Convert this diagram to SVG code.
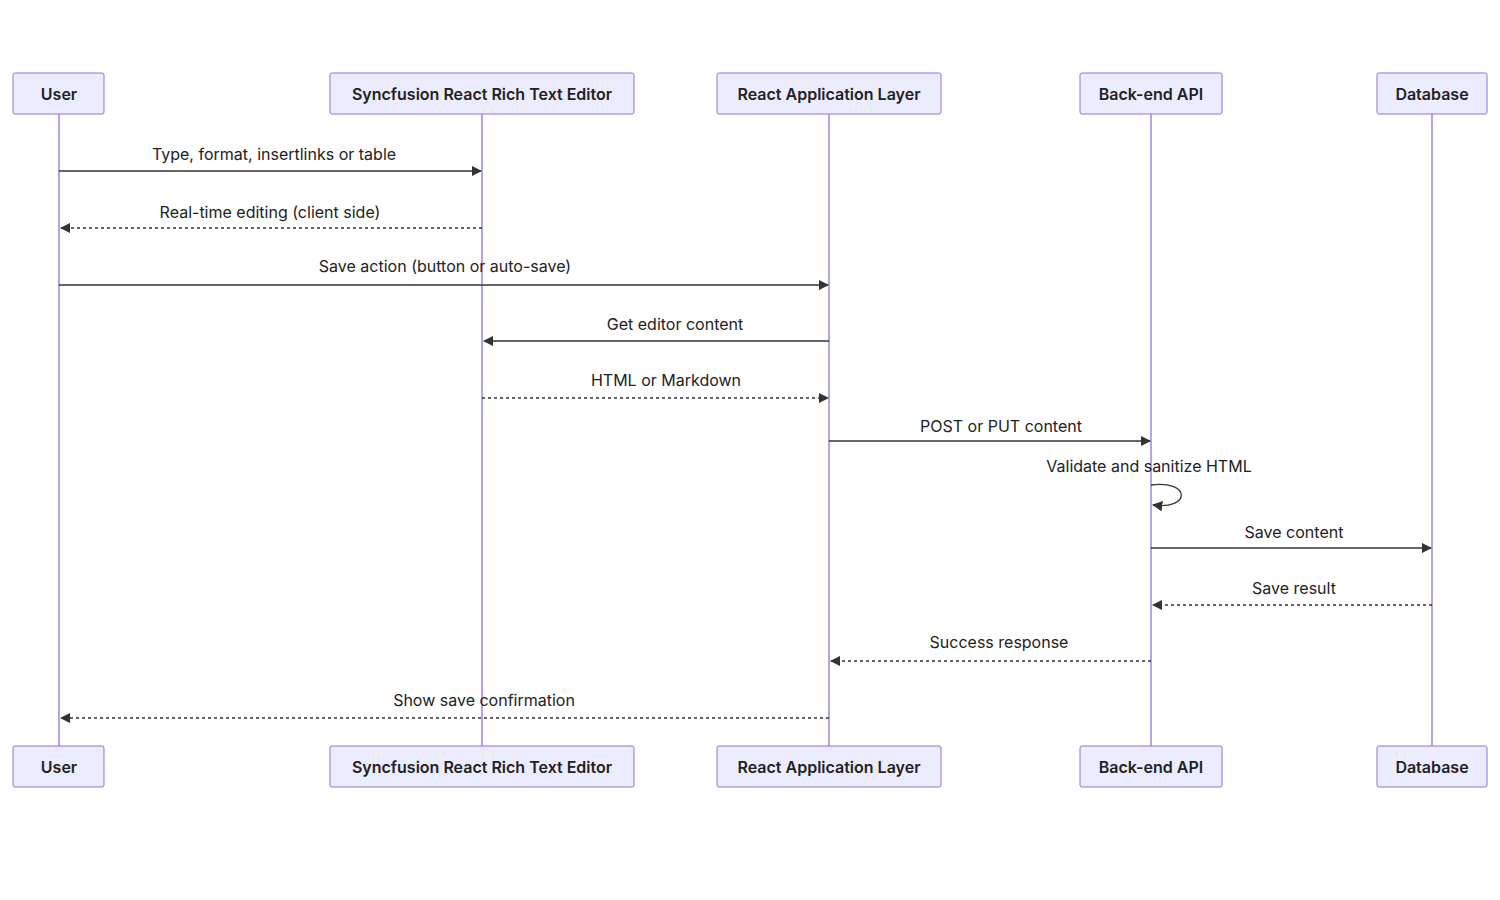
<svg xmlns="http://www.w3.org/2000/svg" width="1500" height="900" viewBox="0 0 1500 900">
<style>
.box{fill:#ECECFF;stroke:#9370DB;stroke-width:1}
.an{font-family:Inter,"Liberation Sans",sans-serif;font-size:16px;font-weight:600;fill:#222;text-anchor:middle;dominant-baseline:central}
.life{stroke:#9370DB;stroke-width:1.3}
.m{stroke:#333;stroke-width:1.3;fill:none}
.d{stroke-dasharray:3,3}
.t{font-family:Inter,"Liberation Sans",sans-serif;font-size:16px;fill:#222;text-anchor:middle}
</style>
<defs>
<marker id="ah" viewBox="0 0 10 10" refX="9" refY="5" markerWidth="8" markerHeight="8" orient="auto"><path d="M0,0L10,5L0,10z" fill="#333"/></marker>
</defs>
<rect width="1500" height="900" fill="#fff"/>
<g id="lifelines">
<line class="life" x1="59" y1="114" x2="59" y2="746"/>
<line class="life" x1="482" y1="114" x2="482" y2="746"/>
<line class="life" x1="829" y1="114" x2="829" y2="746"/>
<line class="life" x1="1151" y1="114" x2="1151" y2="746"/>
<line class="life" x1="1432" y1="114" x2="1432" y2="746"/>
</g>
<g id="user"><rect class="box" x="13" y="73" width="91" height="41" rx="2"/><text class="an" x="59" y="94">User</text>
<rect class="box" x="13" y="746" width="91" height="41" rx="2"/><text class="an" x="59" y="767">User</text></g>
<g id="editor"><rect class="box" x="330" y="73" width="304" height="41" rx="2"/><text class="an" x="482" y="94">Syncfusion React Rich Text Editor</text>
<rect class="box" x="330" y="746" width="304" height="41" rx="2"/><text class="an" x="482" y="767">Syncfusion React Rich Text Editor</text></g>
<g id="app"><rect class="box" x="717" y="73" width="224" height="41" rx="2"/><text class="an" x="829" y="94">React Application Layer</text>
<rect class="box" x="717" y="746" width="224" height="41" rx="2"/><text class="an" x="829" y="767">React Application Layer</text></g>
<g id="api"><rect class="box" x="1080" y="73" width="142" height="41" rx="2"/><text class="an" x="1151" y="94">Back-end API</text>
<rect class="box" x="1080" y="746" width="142" height="41" rx="2"/><text class="an" x="1151" y="767">Back-end API</text></g>
<g id="db"><rect class="box" x="1377" y="73" width="110" height="41" rx="2"/><text class="an" x="1432" y="94">Database</text>
<rect class="box" x="1377" y="746" width="110" height="41" rx="2"/><text class="an" x="1432" y="767">Database</text></g>
<g id="connectors">
<line class="m" x1="59" y1="171" x2="481" y2="171" marker-end="url(#ah)"/>
<text class="t" x="274" y="160">Type, format, insertlinks or table</text>
<line class="m d" x1="482" y1="228" x2="61" y2="228" marker-end="url(#ah)"/>
<text class="t" x="270" y="218">Real-time editing (client side)</text>
<line class="m" x1="59" y1="285" x2="828" y2="285" marker-end="url(#ah)"/>
<text class="t" x="445" y="272">Save action (button or auto-save)</text>
<line class="m" x1="829" y1="341" x2="484" y2="341" marker-end="url(#ah)"/>
<text class="t" x="675" y="330">Get editor content</text>
<line class="m d" x1="482" y1="398" x2="828" y2="398" marker-end="url(#ah)"/>
<text class="t" x="666" y="386">HTML or Markdown</text>
<line class="m" x1="829" y1="441" x2="1150" y2="441" marker-end="url(#ah)"/>
<text class="t" x="1001" y="432">POST or PUT content</text>
<path class="m" d="M1151,485 C1191,480 1191,510 1153,505" marker-end="url(#ah)"/>
<text class="t" x="1149" y="472">Validate and sanitize HTML</text>
<line class="m" x1="1151" y1="548" x2="1431" y2="548" marker-end="url(#ah)"/>
<text class="t" x="1294" y="538">Save content</text>
<line class="m d" x1="1432" y1="605" x2="1153" y2="605" marker-end="url(#ah)"/>
<text class="t" x="1294" y="594">Save result</text>
<line class="m d" x1="1151" y1="661" x2="831" y2="661" marker-end="url(#ah)"/>
<text class="t" x="999" y="648">Success response</text>
<line class="m d" x1="829" y1="718" x2="61" y2="718" marker-end="url(#ah)"/>
<text class="t" x="484" y="706">Show save confirmation</text>
</g>
</svg>
